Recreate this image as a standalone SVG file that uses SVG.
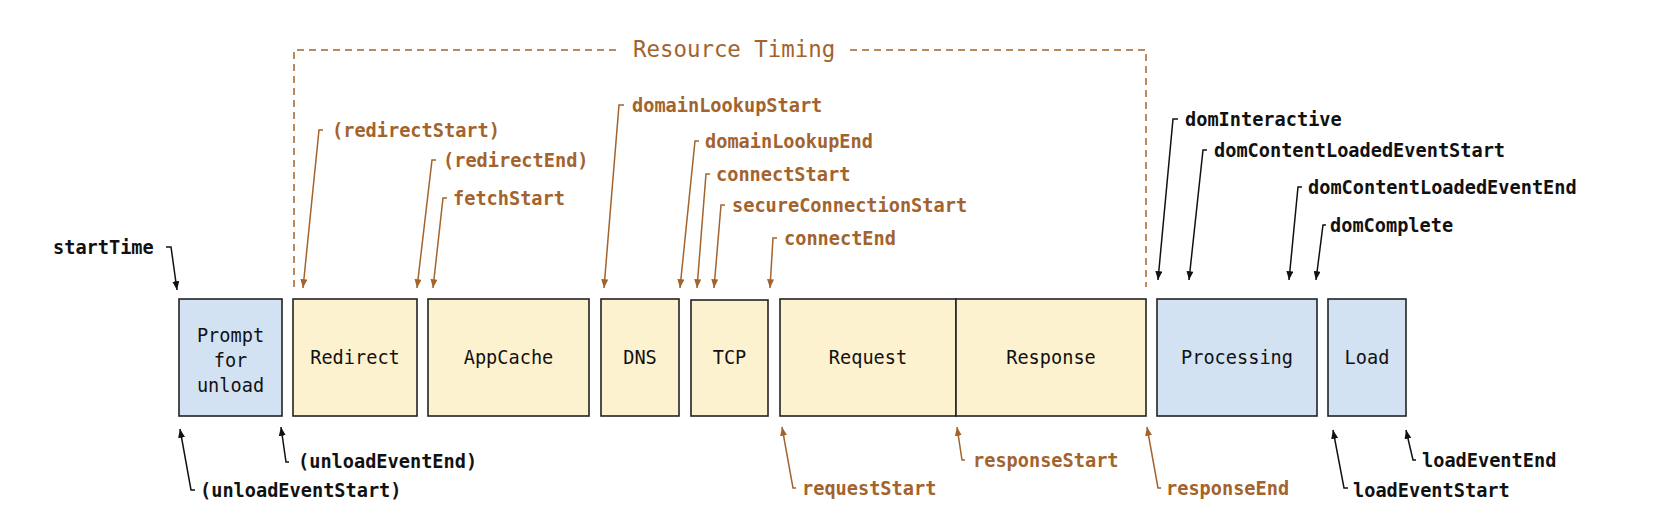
<svg xmlns="http://www.w3.org/2000/svg" width="1666" height="518" viewBox="0 0 1666 518">
<style>
.bg{fill:#ffffff}
.box{stroke:#222222;stroke-width:1.6}
.blue{fill:#d3e2f2}
.yel{fill:#fdf2d0}
.lbl{font-family:"DejaVu Sans Mono","Liberation Mono",monospace;font-size:18.6px;fill:#111111;text-anchor:middle}
.t{font-family:"DejaVu Sans Mono","Liberation Mono",monospace;font-size:18.6px;font-weight:bold}
.k{fill:#111111}
.b{fill:#a3632d}
.ck{fill:none;stroke:#111111;stroke-width:1.5}
.cb{fill:none;stroke:#a3632d;stroke-width:1.5}
.dash{fill:none;stroke:#a3632d;stroke-width:1.5;stroke-dasharray:7 5}
.rt{font-family:"DejaVu Sans Mono","Liberation Mono",monospace;font-size:22.4px;fill:#a3632d}
</style>
<defs>
<marker id="ak" viewBox="0 0 10 8" refX="10" refY="4" markerWidth="9" markerHeight="7" markerUnits="userSpaceOnUse" orient="auto"><path d="M0,0 L10,4 L0,8 z" fill="#111111"/></marker>
<marker id="ab" viewBox="0 0 10 8" refX="10" refY="4" markerWidth="9" markerHeight="7" markerUnits="userSpaceOnUse" orient="auto"><path d="M0,0 L10,4 L0,8 z" fill="#a3632d"/></marker>
</defs>
<rect class="bg" x="0" y="0" width="1666" height="518"/>

<g id="resource-timing">
<path class="dash" d="M294,287 V50 H620"/>
<path class="dash" d="M850,50 H1146 V287"/>
<text class="rt" x="633" y="57">Resource Timing</text>
</g>

<g id="node-prompt"><rect class="box blue" x="179" y="299" width="103" height="117"/>
<text class="lbl" x="230.5" y="342">Prompt</text><text class="lbl" x="230.5" y="367">for</text><text class="lbl" x="230.5" y="392">unload</text></g>
<g id="node-redirect"><rect class="box yel" x="293" y="299" width="124" height="117"/><text class="lbl" x="355" y="364">Redirect</text></g>
<g id="node-appcache"><rect class="box yel" x="428" y="299" width="161" height="117"/><text class="lbl" x="508.5" y="364">AppCache</text></g>
<g id="node-dns"><rect class="box yel" x="601" y="299" width="78" height="117"/><text class="lbl" x="640" y="364">DNS</text></g>
<g id="node-tcp"><rect class="box yel" x="691" y="300" width="77" height="116"/><text class="lbl" x="729.5" y="364">TCP</text></g>
<g id="node-request"><rect class="box yel" x="780" y="299" width="176" height="117"/><text class="lbl" x="868" y="364">Request</text></g>
<g id="node-response"><rect class="box yel" x="956" y="299" width="190" height="117"/><text class="lbl" x="1051" y="364">Response</text></g>
<g id="node-processing"><rect class="box blue" x="1157" y="299" width="160" height="117"/><text class="lbl" x="1237" y="364">Processing</text></g>
<g id="node-load"><rect class="box blue" x="1328" y="299" width="78" height="117"/><text class="lbl" x="1367" y="364">Load</text></g>

<g id="connectors">
<path class="ck" marker-end="url(#ak)" d="M166,247 H171 L177,290"/>
<path class="cb" marker-end="url(#ab)" d="M323,130 H319 L303,288"/>
<path class="cb" marker-end="url(#ab)" d="M436,160 H432 L417,288"/>
<path class="cb" marker-end="url(#ab)" d="M447,198 H443 L433,288"/>
<path class="cb" marker-end="url(#ab)" d="M624,105 H619 L604,288"/>
<path class="cb" marker-end="url(#ab)" d="M699,141 H695 L680,288"/>
<path class="cb" marker-end="url(#ab)" d="M710,174 H706 L697,288"/>
<path class="cb" marker-end="url(#ab)" d="M725,205 H721 L714,288"/>
<path class="cb" marker-end="url(#ab)" d="M777,238 H773 L770,288"/>
<path class="ck" marker-end="url(#ak)" d="M1178,119 H1173 L1158,280"/>
<path class="ck" marker-end="url(#ak)" d="M1207,150 H1203 L1189,280"/>
<path class="ck" marker-end="url(#ak)" d="M1302,187 H1298 L1289,280"/>
<path class="ck" marker-end="url(#ak)" d="M1326,225 H1323 L1316,280"/>
<path class="ck" marker-end="url(#ak)" d="M195,490 H191 L180,429"/>
<path class="ck" marker-end="url(#ak)" d="M289,462 H286 L281,427"/>
<path class="cb" marker-end="url(#ab)" d="M796,488 H793 L782,427"/>
<path class="cb" marker-end="url(#ab)" d="M965,460 H962 L957,427"/>
<path class="cb" marker-end="url(#ab)" d="M1161,488 H1158 L1147,427"/>
<path class="ck" marker-end="url(#ak)" d="M1348,488 H1344 L1333,430"/>
<path class="ck" marker-end="url(#ak)" d="M1416,460 H1413 L1406,430"/>
</g>

<g id="labels">
<text class="t k" x="53" y="254">startTime</text>
<text class="t b" x="332" y="137">(redirectStart)</text>
<text class="t b" x="443" y="167">(redirectEnd)</text>
<text class="t b" x="453" y="205">fetchStart</text>
<text class="t b" x="632" y="112">domainLookupStart</text>
<text class="t b" x="705" y="148">domainLookupEnd</text>
<text class="t b" x="716" y="181">connectStart</text>
<text class="t b" x="732" y="212">secureConnectionStart</text>
<text class="t b" x="784" y="245">connectEnd</text>
<text class="t k" x="1185" y="126">domInteractive</text>
<text class="t k" x="1214" y="157">domContentLoadedEventStart</text>
<text class="t k" x="1308" y="194">domContentLoadedEventEnd</text>
<text class="t k" x="1330" y="232">domComplete</text>
<text class="t k" x="200" y="497">(unloadEventStart)</text>
<text class="t k" x="298" y="468">(unloadEventEnd)</text>
<text class="t b" x="802" y="495">requestStart</text>
<text class="t b" x="973" y="467">responseStart</text>
<text class="t b" x="1166" y="495">responseEnd</text>
<text class="t k" x="1353" y="497">loadEventStart</text>
<text class="t k" x="1422" y="467">loadEventEnd</text>
</g>
</svg>
